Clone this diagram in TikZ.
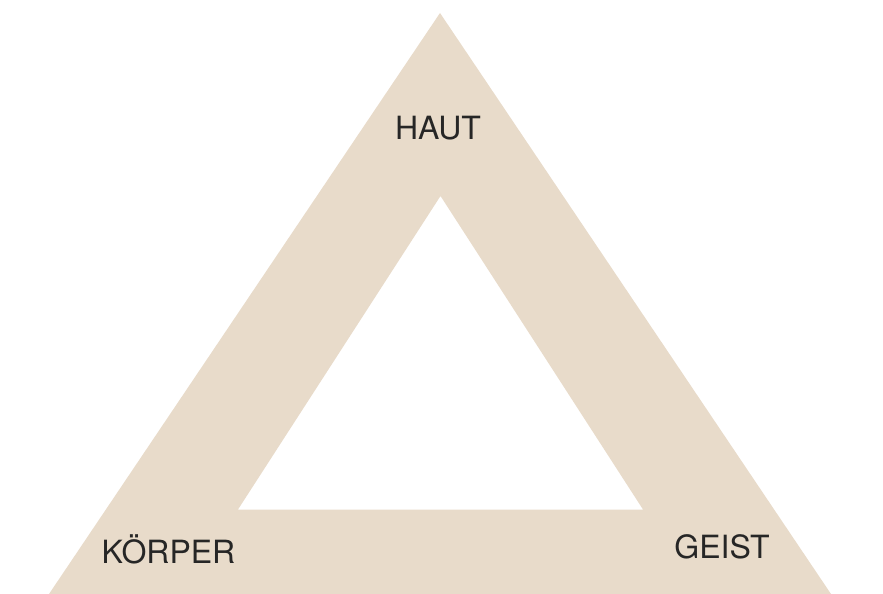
\documentclass[tikz,border=0pt]{standalone}
\usepackage{fontspec}
\setmainfont{TeX Gyre Heros}
\definecolor{sand}{RGB}{232,219,202}
\begin{document}
\begin{tikzpicture}[x=1pt,y=-1pt,
  lbl/.style={anchor=base,font=\fontsize{32}{35}\selectfont,text=black!85,inner sep=0pt}]
\useasboundingbox (0,0) rectangle (883,594);
\fill[sand,even odd rule] (440,13) -- (831,594) -- (49,594) -- cycle
  (440.5,196) -- (643,509.5) -- (238,509.5) -- cycle;
\node[lbl] (haut) at (438,139) {HAUT};
\node[lbl] (koerper) at (168.5,563) {KÖRPER};
\node[lbl] (geist) at (722,558) {GEIST};
\end{tikzpicture}
\end{document}
